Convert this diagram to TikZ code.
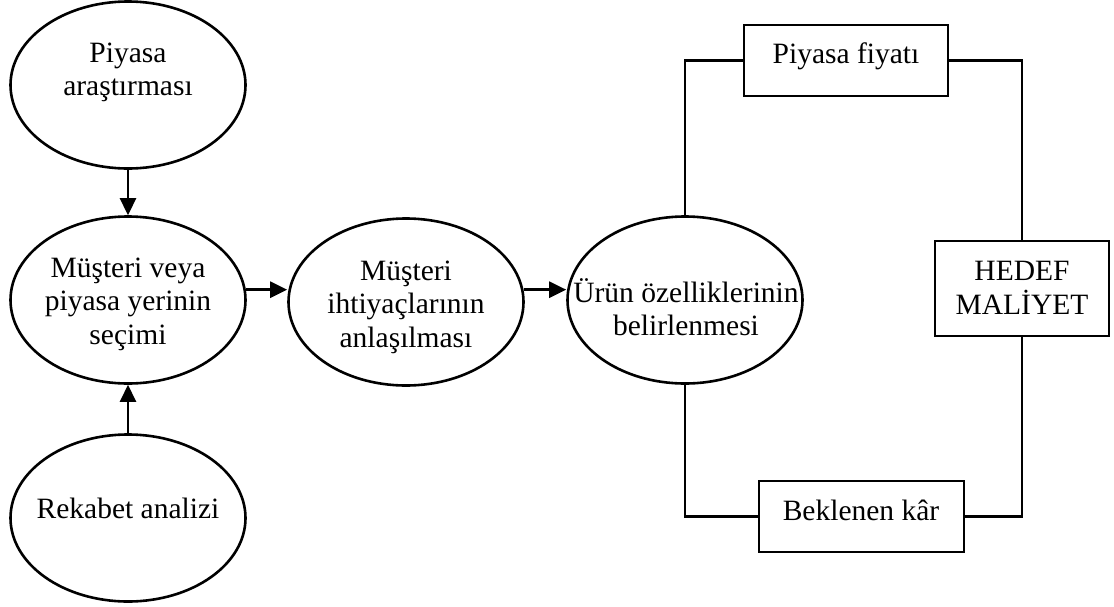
\documentclass[tikz,border=0pt]{standalone}
\usepackage{fontspec}
\setmainfont{Liberation Serif}
\usetikzlibrary{shapes.geometric,arrows.meta}
\begin{document}
\begin{tikzpicture}[x=1pt,y=-1pt,
  bubble/.style={draw, line width=2.6pt, ellipse, minimum width=235pt, minimum height=167pt, inner sep=0pt},
  box/.style={draw, line width=2.6pt, rectangle, inner sep=0pt},
  txt/.style={anchor=base, align=center, inner sep=0pt, font=\fontsize{29.5}{33.5}\selectfont},
  link/.style={line width=2.6pt},
  arr/.style={line width=2.6pt, -{Triangle[length=17pt,width=16pt]}}
]
\useasboundingbox (0,0) rectangle (1114,606);

% process ellipses
\node[bubble] (e1) at (128,85) {};
\node[bubble] (e2) at (128,300) {};
\node[bubble] (e3) at (128,518) {};
\node[bubble] (e4) at (406,302) {};
\node[bubble] (e5) at (685,300) {};

% cost boxes
\node[box, minimum width=204pt, minimum height=71pt] (pf) at (846,60.5) {};
\node[box, minimum width=205pt, minimum height=71pt] (bk) at (861.5,516.5) {};
\node[box, minimum width=174pt, minimum height=95pt] (hm) at (1022,288.5) {};

% labels (anchored at the baseline of the last line)
\node[txt] (t1) at (128,95.5) {Piyasa\\araştırması};
\node[txt] (t2) at (128,344) {Müşteri veya\\piyasa yerinin\\seçimi};
\node[txt] (t3) at (128,518) {Rekabet analizi};
\node[txt] (t4) at (406,347) {Müşteri\\ihtiyaçlarının\\anlaşılması};
\node[txt] (t5) at (686,335.5) {Ürün özelliklerinin\\belirlenmesi};
\node[txt] (t6) at (846,63) {Piyasa fiyatı};
\node[txt] (t7) at (861,520) {Beklenen kâr};
\node[txt] (t8) at (1022,314) {HEDEF\\MALİYET};

% flow arrows
\draw[arr] (e1.south) -- (e2.north);
\draw[arr] (e3.north) -- (e2.south);
\draw[arr] (e2.5) -- (e2.5 -| e4.west);
\draw[arr] (e4.6) -- (e4.6 -| e5.west);

% price / profit loop to target cost
\draw[link] (e5.north) |- (pf.west);
\draw[link] (pf.east) -| (hm.north);
\draw[link] (e5.south) |- (bk.west);
\draw[link] (bk.east) -| (hm.south);
\end{tikzpicture}
\end{document}
